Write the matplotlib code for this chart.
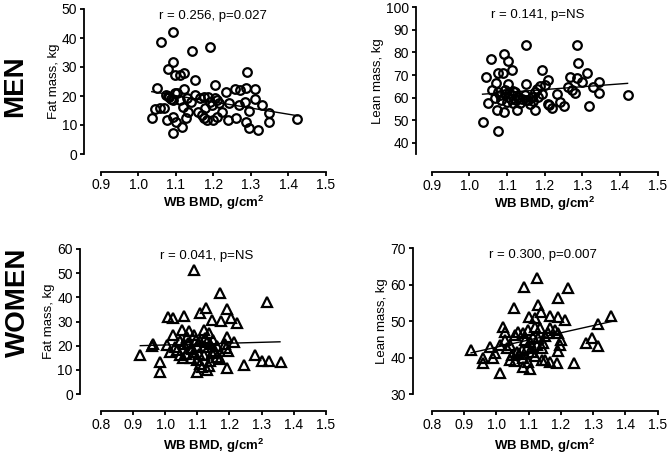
import matplotlib
matplotlib.use("Agg")
import matplotlib.pyplot as plt

plt.rcParams['font.family'] = ['Liberation Sans', 'DejaVu Sans']
plt.rcParams['mathtext.fontset'] = 'custom'
plt.rcParams['mathtext.rm'] = 'Liberation Sans'
plt.rcParams['mathtext.bf'] = 'Liberation Sans:bold'

# ---------------- data ----------------
men_fat_x = [1.093, 1.060, 1.142, 1.192, 1.092, 1.080, 1.098, 1.110, 1.122, 1.151, 1.289, 1.205,
             1.049, 1.122, 1.098, 1.075, 1.080, 1.082, 1.086, 1.112, 1.129, 1.151, 1.165, 1.175,
             1.187, 1.205, 1.211, 1.234, 1.257, 1.270, 1.288, 1.312, 1.312, 1.329, 1.347, 1.347,
             1.424, 1.045, 1.058, 1.069, 1.036, 1.093, 1.119, 1.093, 1.076, 1.100, 1.116, 1.093,
             1.127, 1.133, 1.160, 1.169, 1.174, 1.183, 1.200, 1.178, 1.196, 1.214, 1.222, 1.209,
             1.240, 1.261, 1.242, 1.269, 1.285, 1.295, 1.287, 1.296, 1.320, 1.103, 1.140, 1.190]
men_fat_y = [42.2, 38.5, 35.5, 37.0, 31.8, 29.3, 27.2, 27.2, 27.8, 25.5, 28.3, 23.8,
             22.6, 22.4, 20.9, 20.5, 20.0, 19.5, 19.0, 18.6, 19.2, 20.3, 19.2, 19.8,
             19.5, 19.2, 18.6, 21.5, 22.4, 22.1, 22.9, 22.3, 19.0, 16.9, 14.3, 11.1,
             12.1, 15.4, 15.7, 15.7, 12.3, 18.6, 16.3, 12.9, 11.7, 11.1, 9.4, 7.4,
             12.3, 14.6, 14.6, 13.4, 12.3, 11.7, 11.7, 15.7, 16.9, 17.5, 14.6, 12.9,
             11.7, 12.3, 17.5, 16.9, 18.0, 14.9, 11.1, 8.9, 8.3, 21.0, 18.0, 18.0]

men_lean_x = [1.150, 1.285, 1.058, 1.093, 1.102, 1.288, 1.114, 1.192, 1.044, 1.077, 1.090, 1.070,
              1.102, 1.150, 1.267, 1.285, 1.298, 1.311, 1.329, 1.344, 1.344, 1.208, 1.201, 1.188,
              1.180, 1.174, 1.261, 1.272, 1.281, 1.420, 1.318, 1.035, 1.077, 1.049, 1.073, 1.093,
              1.126, 1.174, 1.208, 1.212, 1.220, 1.241, 1.252, 1.232, 1.059, 1.081, 1.095, 1.103,
              1.112, 1.121, 1.130, 1.139, 1.147, 1.156, 1.165, 1.183, 1.192, 1.085, 1.100, 1.115,
              1.135, 1.160, 1.110, 1.125, 1.075, 1.095, 1.115, 1.105, 1.068, 1.150, 1.170]
men_lean_y = [83.3, 83.3, 76.9, 79.3, 76.1, 75.1, 72.1, 72.4, 69.2, 70.7, 70.7, 66.5,
              65.9, 65.9, 69.2, 68.7, 67.0, 71.0, 64.7, 67.0, 62.1, 68.0, 65.5, 65.0,
              64.0, 62.5, 64.7, 63.3, 62.1, 61.0, 56.1, 49.2, 45.2, 57.6, 54.4, 53.6,
              54.4, 54.7, 57.0, 56.6, 55.6, 58.1, 56.1, 61.8, 63.3, 61.0, 61.8, 60.3,
              61.0, 62.5, 60.3, 59.5, 61.0, 58.8, 60.3, 60.3, 61.8, 58.8, 58.1, 57.5,
              57.8, 57.0, 59.5, 59.0, 62.5, 63.5, 63.0, 62.0, 60.0, 59.0, 58.5]

women_fat_x = [1.089, 1.172, 1.317, 1.008, 1.026, 1.060, 1.109, 1.128, 1.193, 1.146, 1.175, 1.206,
               1.224, 0.923, 0.961, 0.958, 0.985, 0.983, 1.279, 1.302, 1.322, 1.359, 1.244, 1.193,
               1.099, 1.130, 1.026, 1.052, 1.068, 1.089, 1.120, 1.135, 1.193, 1.215, 1.006, 1.016,
               1.037, 1.047, 1.057, 1.070, 1.080, 1.090, 1.100, 1.110, 1.120, 1.130, 1.140, 1.150,
               1.160, 1.185, 1.190, 1.195, 1.080, 1.100, 1.110, 1.120, 1.140, 1.160, 1.170, 1.065,
               1.095, 1.105, 1.125, 1.145, 1.045, 1.030, 1.075, 1.115, 1.135, 1.085, 1.155, 1.060]
women_fat_y = [51.3, 41.7, 38.2, 32.0, 31.6, 32.3, 33.4, 35.4, 35.0, 30.6, 30.3, 31.3,
               29.2, 16.1, 20.6, 20.0, 13.4, 9.2, 16.1, 13.7, 13.7, 13.4, 12.0, 10.6,
               9.2, 9.9, 24.4, 26.5, 23.7, 24.4, 26.5, 25.1, 23.7, 21.7, 20.3, 17.5,
               18.2, 16.1, 14.8, 21.0, 19.0, 17.5, 20.0, 22.0, 19.5, 21.5, 20.5, 22.5,
               20.0, 20.5, 19.0, 18.0, 15.0, 14.0, 12.5, 16.0, 13.5, 15.5, 14.5, 16.5,
               22.5, 16.5, 23.0, 17.0, 22.0, 19.5, 26.0, 11.0, 11.5, 18.5, 18.0, 20.5]

women_lean_x = [1.125, 1.087, 1.221, 1.190, 1.056, 1.130, 1.138, 1.166, 1.190, 1.213, 1.355, 1.314,
                0.922, 0.960, 0.960, 0.981, 0.991, 1.012, 1.022, 1.027, 1.277, 1.297, 1.316, 1.242,
                1.151, 1.166, 1.187, 1.084, 1.104, 1.101, 1.120, 1.099, 1.120, 1.135, 1.166, 1.182,
                1.192, 1.202, 1.197, 1.192, 1.161, 1.151, 1.058, 1.068, 1.084, 1.027, 1.043, 1.032,
                1.012, 0.996, 1.048, 1.063, 1.079, 1.094, 1.110, 1.125, 1.141, 1.043, 1.058, 1.084,
                1.099, 1.120, 1.141, 1.089, 1.104, 1.115, 1.130, 1.070, 1.110, 1.145]
women_lean_y = [61.9, 59.5, 59.0, 56.3, 53.5, 54.3, 52.6, 51.5, 51.1, 50.3, 51.5, 49.1,
                42.1, 40.0, 38.4, 43.0, 39.8, 35.7, 48.5, 47.1, 43.9, 45.5, 43.3, 38.4,
                39.3, 38.9, 38.4, 37.5, 37.0, 51.2, 50.8, 47.6, 48.5, 48.0, 48.0, 47.6,
                46.7, 44.9, 43.5, 41.7, 46.7, 45.8, 46.2, 47.1, 46.7, 44.8, 43.5, 42.5,
                43.5, 41.2, 40.7, 41.6, 42.1, 42.5, 43.0, 43.5, 42.5, 39.3, 39.0, 39.8,
                38.9, 40.3, 39.3, 44.8, 44.4, 45.7, 45.3, 41.0, 41.5, 44.0]

# regression line end points
men_fat_fit_x = [1.036, 1.424]
men_fat_fit_y = [21.5, 13.2]
men_lean_fit_x = [1.035, 1.420]
men_lean_fit_y = [61.5, 66.3]
women_fat_fit_x = [0.923, 1.357]
women_fat_fit_y = [20.0, 21.6]
women_lean_fit_x = [0.922, 1.357]
women_lean_fit_y = [41.3, 49.9]

titles = ["r = 0.256, p=0.027", "r = 0.141, p=NS", "r = 0.041, p=NS", "r = 0.300, p=0.007"]
ylabels = ["Fat mass, kg", "Lean mass, kg", "Fat mass, kg", "Lean mass, kg"]
xlabel = r"WB BMD, g/cm$^{\mathbf{2}}$"
row_labels = ["MEN", "WOMEN"]

men_xticks = [0.9, 1.0, 1.1, 1.2, 1.3, 1.4, 1.5]
women_xticks = [0.8, 0.9, 1.0, 1.1, 1.2, 1.3, 1.4, 1.5]

# ---------------- figure ----------------
W, H = 670, 457
fig = plt.figure(figsize=(W / 100, H / 100), dpi=100)

def px_axes(left, top, right, bottom):
    return fig.add_axes([left / W, 1 - bottom / H, (right - left) / W, (bottom - top) / H])

panels = [
    dict(box=(100.7, 9, 326, 154), x=men_fat_x, y=men_fat_y, fx=men_fat_fit_x, fy=men_fat_fit_y,
         xlim=(0.9, 1.5), xt=men_xticks, ylim=(0, 50), yt=[0, 10, 20, 30, 40, 50], m='o',
         loff=16.5, boff=17.5, tfrac=0.955, tx=0.5, xpad=1.0),
    dict(box=(431.7, 7.3, 657.7, 154), x=men_lean_x, y=men_lean_y, fx=men_lean_fit_x, fy=men_lean_fit_y,
         xlim=(0.9, 1.5), xt=men_xticks, ylim=(35, 100), yt=[40, 50, 60, 70, 80, 90, 100], m='o',
         loff=16, boff=18, tfrac=0.945, tx=0.47, xpad=1.0),
    dict(box=(100.7, 249, 326, 394), x=women_fat_x, y=women_fat_y, fx=women_fat_fit_x, fy=women_fat_fit_y,
         xlim=(0.8, 1.5), xt=women_xticks, ylim=(0, 60), yt=[0, 10, 20, 30, 40, 50, 60], m='^',
         loff=21, boff=17, tfrac=0.955, tx=0.47, xpad=3.5),
    dict(box=(431.7, 248.3, 657.7, 394), x=women_lean_x, y=women_lean_y, fx=women_lean_fit_x, fy=women_lean_fit_y,
         xlim=(0.8, 1.5), xt=women_xticks, ylim=(30, 70), yt=[30, 40, 50, 60, 70], m='^',
         loff=19, boff=17, tfrac=0.952, tx=0.49, xpad=3.5),
]

pt = 72 / 100  # points per pixel
for i, p in enumerate(panels):
    ax = px_axes(*p['box'])
    ax.set_xlim(*p['xlim'])
    ax.set_ylim(*p['ylim'])
    ax.set_xticks(p['xt'])
    ax.set_yticks(p['yt'])
    ax.set_xticklabels([f"{v:.1f}" for v in p['xt']], fontweight='bold', fontsize=8)
    ax.set_yticklabels([f"{v:d}" for v in p['yt']], fontweight='bold', fontsize=8)
    for s in ['top', 'right']:
        ax.spines[s].set_visible(False)
    ax.spines['left'].set_position(('outward', p['loff'] * pt))
    ax.spines['bottom'].set_position(('outward', p['boff'] * pt))
    ax.spines['left'].set_linewidth(1.3)
    ax.spines['bottom'].set_linewidth(1.3)
    ax.tick_params(direction='out', length=3.2, width=1.3, pad=1.8, colors='black')
    ax.patch.set_visible(False)
    ms = 6.2 if p['m'] == 'o' else 6.8
    ax.plot(p['x'], p['y'], linestyle='none', marker=p['m'], markersize=ms,
            markerfacecolor='none', markeredgecolor='black', markeredgewidth=1.6, clip_on=False)
    ax.plot(p['fx'], p['fy'], color='black', linewidth=1.0)
    ax.text(p['tx'], p['tfrac'], titles[i], transform=ax.transAxes, ha='center', va='center',
            fontsize=9.5)
    ax.set_ylabel(ylabels[i], fontsize=9.5, labelpad=1.5)
    ax.set_xlabel(xlabel, fontsize=9.5, fontweight='bold', labelpad=p['xpad'])

fig.text(15 / W, 1 - 86 / H, row_labels[0], rotation=90, ha='center', va='center',
         fontsize=20, fontweight='bold')
fig.text(18 / W, 1 - 302 / H, row_labels[1], rotation=90, ha='center', va='center',
         fontsize=20, fontweight='bold')

fig.savefig("out.png", dpi=100)
